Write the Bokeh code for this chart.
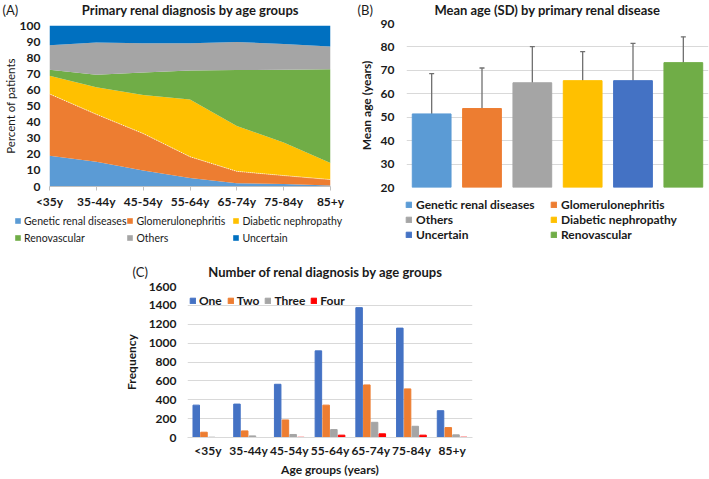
from bokeh.plotting import figure
from bokeh.models import (ColumnDataSource, Range1d, FactorRange, FixedTicker, Legend,
                          LegendItem, Label, Whisker, TeeHead, Spacer)
from bokeh.layouts import column, row
from bokeh.transform import dodge
from bokeh.embed import file_html
from bokeh.resources import INLINE
import numpy as np

FONT = "Lato"

# ---------------- data ----------------
ages = ["<35y", "35-44y", "45-54y", "55-64y", "65-74y", "75-84y", "85+y"]

# Panel A: percent of patients by primary renal diagnosis
genetic_pct = [19.1, 15.4, 9.9, 5.3, 2.0, 1.6, 0.6]
glomerulo_pct = [38.4, 29.4, 23.0, 13.2, 7.4, 5.2, 3.7]
diabetic_pct = [11.3, 16.8, 24.0, 35.5, 28.2, 20.5, 10.3]
renovascular_pct = [3.7, 7.8, 13.9, 18.1, 34.7, 45.2, 58.3]
others_pct = [15.2, 20.1, 18.1, 16.8, 17.4, 16.0, 14.0]
uncertain_pct = [12.3, 10.5, 11.1, 11.1, 10.3, 11.5, 13.1]
series_a = ["Genetic renal diseases", "Glomerulonephritis", "Diabetic nephropathy",
            "Renovascular", "Others", "Uncertain"]
colors_a = ["#5B9BD5", "#ED7D31", "#FFC000", "#70AD47", "#A5A5A5", "#0070C0"]

# Panel B: mean age with SD bars
diseases = ["Genetic renal diseases", "Glomerulonephritis", "Others",
            "Diabetic nephropathy", "Uncertain", "Renovascular"]
mean_age = [51.4, 53.7, 64.7, 65.6, 65.6, 73.3]
sd_upper = [68.6, 71.0, 80.1, 78.0, 81.5, 84.3]
sd_lower = [39.1, 36.9, 49.8, 53.4, 50.0, 62.2]
colors_b = ["#5B9BD5", "#ED7D31", "#A5A5A5", "#FFC000", "#4472C4", "#70AD47"]

# Panel C: number of renal diagnoses per patient
one = [343, 354, 564, 918, 1376, 1159, 284]
two = [56, 70, 186, 343, 557, 515, 105]
three = [3, 17, 32, 84, 161, 119, 28]
four = [0, 0, 2, 25, 39, 25, 3]
counts = ["One", "Two", "Three", "Four"]
colors_c = ["#4472C4", "#ED7D31", "#A5A5A5", "#FF0000"]

TXT = "#1a1a1a"
GRID = "#D9D9D9"


def style_axes(p, tick_size="12px"):
    for ax in (p.xaxis + p.yaxis):
        ax.major_label_text_font = FONT
        ax.major_label_text_font_style = "bold"
        ax.major_label_text_font_size = tick_size
        ax.major_label_text_color = TXT
        ax.axis_label_text_font = FONT
        ax.axis_label_text_color = TXT
        ax.minor_tick_line_color = None
        ax.minor_tick_out = 0


def blank(width, height):
    h = figure(width=width, height=height, output_backend="svg", toolbar_location=None,
               min_border=0, x_range=Range1d(0, 1), y_range=Range1d(0, 1))
    h.axis.visible = False
    h.grid.visible = False
    h.outline_line_color = None
    h.background_fill_alpha = 0
    h.border_fill_alpha = 0
    return h


def shifted(p):
    # 1px offset so that the helper strip is not frame-aligned with the chart
    return row(Spacer(width=1, height=1), p)


def add_text(p, x, y, text, size, bold=False, align="center"):
    p.add_layout(Label(x=x, y=y, x_units="screen", y_units="screen", text=text,
                       text_font=FONT, text_font_size=size,
                       text_font_style="bold" if bold else "normal",
                       text_color=TXT, text_align=align, text_baseline="middle"))


def make_legend(items, **kw):
    return Legend(items=items, glyph_width=7, glyph_height=7, padding=0, margin=0,
                  border_line_color=None, background_fill_alpha=0,
                  label_text_font=FONT, label_text_color=TXT, **kw)


# ---------------- Panel A ----------------
hA = blank(353, 18)
add_text(hA, 189, 9, "Primary renal diagnosis by age groups", "13px", bold=True)
add_text(hA, 1, 9, "(A)", "13px", align="left")

xs = list(range(len(ages)))
srcA = ColumnDataSource(dict(x=xs, gen=genetic_pct, glo=glomerulo_pct, dia=diabetic_pct,
                             ren=renovascular_pct, oth=others_pct, unc=uncertain_pct))
stackA = ["gen", "glo", "dia", "ren", "oth", "unc"]
pA = figure(width=355, height=193, x_range=Range1d(0, len(ages) - 1), y_range=Range1d(0, 100),
            output_backend="svg", toolbar_location=None,
            min_border_left=49, min_border_right=25, min_border_top=7, min_border_bottom=24)
pA.outline_line_color = None
pA.grid.visible = False
pA.varea_stack(stackers=stackA, x="x", color=colors_a, source=srcA)
glo_top = np.array(genetic_pct) + np.array(glomerulo_pct)
pA.line(xs, glo_top, line_color="white", line_width=1, line_dash="1 1", line_alpha=0.8)

pA.xaxis.ticker = FixedTicker(ticks=xs)
pA.xaxis.major_label_overrides = {i: a for i, a in enumerate(ages)}
pA.xaxis.axis_line_color = "#BFBFBF"
pA.xaxis.major_tick_line_color = "#BFBFBF"
pA.xaxis.major_tick_out = 4
pA.xaxis.major_tick_in = 0
pA.xaxis.major_label_standoff = 3
pA.yaxis.ticker = FixedTicker(ticks=list(range(0, 101, 10)))
pA.yaxis.axis_line_color = None
pA.yaxis.major_tick_line_color = None
pA.yaxis.major_tick_out = 0
pA.yaxis.major_tick_in = 0
pA.yaxis.major_label_standoff = 9
pA.yaxis.axis_label = "Percent of patients"
pA.yaxis.axis_label_text_font_style = "normal"
pA.yaxis.axis_label_text_font_size = "11.5px"
pA.yaxis.axis_label_standoff = 0
style_axes(pA)

fA = blank(353, 37)
rA_leg = fA.varea_stack(stackers=stackA, x="x", color=colors_a, source=srcA, visible=False)
legA = make_legend([LegendItem(label=n, renderers=[r]) for n, r in zip(series_a, rA_leg)],
                   orientation="horizontal", ncols=3, location=(13, 2),
                   label_standoff=3, label_width=96, label_height=17, spacing=0,
                   label_text_font_size="10.5px")
fA.add_layout(legA, "center")

colA = column(shifted(hA), pA, shifted(fA))

# ---------------- Panel B ----------------
hB = blank(352, 17)
add_text(hB, 191, 8, "Mean age (SD) by primary renal disease", "13px", bold=True)
add_text(hB, 1, 8, "(B)", "13px", align="left")

srcB = ColumnDataSource(dict(d=diseases, m=mean_age, up=sd_upper, lo=sd_lower, c=colors_b))
pB = figure(width=354, height=177, x_range=FactorRange(*diseases, range_padding=0),
            y_range=Range1d(20, 90), output_backend="svg", toolbar_location=None,
            min_border_left=49, min_border_right=1, min_border_top=6, min_border_bottom=7)
pB.outline_line_color = None
pB.xgrid.visible = False
pB.ygrid.grid_line_color = GRID
pB.ygrid.ticker = FixedTicker(ticks=list(range(20, 91, 10)))
pB.vbar(x="d", top="m", bottom=20, width=0.77, color="c", source=srcB)
wh = Whisker(base="d", upper="up", lower="lo", source=srcB, line_color="#707070", line_width=1.3,
             upper_head=TeeHead(size=5, line_color="#707070", line_width=1.3),
             lower_head=TeeHead(size=5, line_color="#707070", line_width=1.3))
pB.add_layout(wh)
pB.xaxis.visible = False
pB.yaxis.ticker = FixedTicker(ticks=list(range(20, 91, 10)))
pB.yaxis.axis_line_color = None
pB.yaxis.major_tick_line_color = None
pB.yaxis.major_tick_out = 0
pB.yaxis.major_tick_in = 0
pB.yaxis.major_label_standoff = 12
pB.yaxis.axis_label = "Mean age (years)"
pB.yaxis.axis_label_text_font_style = "bold"
pB.yaxis.axis_label_text_font_size = "12px"
pB.yaxis.axis_label_standoff = 4
style_axes(pB)

fB = blank(352, 54)
rB_leg = fB.vbar(x=list(range(len(diseases))), top=mean_age, width=0.5, color=colors_b,
                 visible=False)
legB = make_legend([LegendItem(label=n, renderers=[rB_leg], index=i)
                    for i, n in enumerate(diseases)],
                   orientation="horizontal", ncols=2, location=(49, 6),
                   label_standoff=4, label_width=134, label_height=13, spacing=0,
                   label_text_font_size="12px", label_text_font_style="bold")
fB.add_layout(legB, "center")

colB = column(shifted(hB), pB, shifted(fB))

# ---------------- Panel C ----------------
hC = blank(368, 31)
add_text(hC, 204, 8, "Number of renal diagnosis by age groups", "13px", bold=True)
add_text(hC, 11, 8, "(C)", "13px", align="left")

srcC = ColumnDataSource(dict(age=ages, one=one, two=two, three=three, four=four))
pC = figure(width=370, height=200, x_range=FactorRange(*ages, range_padding=0),
            y_range=Range1d(0, 1600), output_backend="svg", toolbar_location=None,
            min_border_left=67, min_border_right=18, min_border_top=7, min_border_bottom=42)
pC.outline_line_color = None
pC.xgrid.visible = False
pC.ygrid.grid_line_color = GRID
offsets = [-0.285, -0.095, 0.095, 0.285]
rC = []
for fld, off, col in zip(["one", "two", "three", "four"], offsets, colors_c):
    rC.append(pC.vbar(x=dodge("age", off, range=pC.x_range), top=fld, width=0.16,
                      color=col, source=srcC))
pC.yaxis.ticker = FixedTicker(ticks=list(range(0, 1601, 200)))
pC.yaxis.axis_line_color = None
pC.yaxis.major_tick_line_color = None
pC.yaxis.major_tick_out = 0
pC.yaxis.major_tick_in = 0
pC.yaxis.major_label_standoff = 11
pC.yaxis.axis_label = "Frequency"
pC.yaxis.axis_label_text_font_style = "bold"
pC.yaxis.axis_label_text_font_size = "12px"
pC.yaxis.axis_label_standoff = 7
pC.xaxis.axis_line_color = GRID
pC.xaxis.major_tick_line_color = None
pC.xaxis.major_tick_out = 0
pC.xaxis.major_tick_in = 0
pC.xaxis.major_label_standoff = 5
pC.xaxis.axis_label = "Age groups (years)"
pC.xaxis.axis_label_text_font_style = "bold"
pC.xaxis.axis_label_text_font_size = "12px"
pC.xaxis.axis_label_standoff = 1
style_axes(pC)
legC = make_legend([LegendItem(label=n, renderers=[r]) for n, r in zip(counts, rC)],
                   orientation="horizontal", location=(2, 129),
                   label_standoff=3, label_height=13, spacing=5,
                   label_text_font_size="12px", label_text_font_style="bold")
pC.add_layout(legC, "center")

colC = column(shifted(hC), pC)

layout = column(row(colA, colB), row(Spacer(width=120, height=1), colC))

with open("out.html", "w") as f:
    f.write(file_html(layout, INLINE))
